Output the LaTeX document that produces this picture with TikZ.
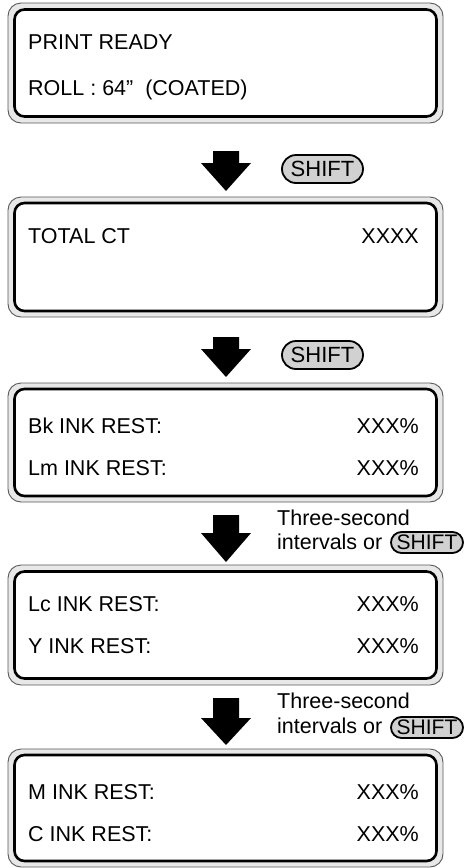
\documentclass[tikz,border=0pt]{standalone}
\usepackage{fontspec}
\setmainfont{Liberation Sans}
\begin{document}
\begin{tikzpicture}[x=1pt,y=-1pt,
  outerbox/.style={draw=black!65,line width=0.9pt,fill=black!9,rounded corners=13pt,minimum width=435pt,inner sep=0pt},
  innerbox/.style={draw=black,line width=2.6pt,fill=white,rounded corners=10pt,minimum width=422pt,inner sep=0pt},
  lcd/.style={font=\fontsize{21.5}{25}\selectfont,inner sep=0pt},
  note/.style={font=\fontsize{21.5}{26}\selectfont,inner sep=0pt,anchor=base west},
  bigkey/.style={draw=black,line width=1.8pt,fill=black!18,rounded corners=14pt,minimum width=81pt,minimum height=28pt,inner sep=0pt,font=\fontsize{22}{24}\selectfont},
  smallkey/.style={draw=black,line width=1.8pt,fill=black!18,rounded corners=10.5pt,minimum width=72pt,minimum height=21pt,inner sep=0pt,font=\fontsize{21}{24}\selectfont},
  blockarrow/.style={fill=black}
]
\useasboundingbox (0,0) rectangle (465,868);

% boxes
\node[outerbox,minimum height=120pt] (o1) at (225.5,63) {};
\node[innerbox,minimum height=107pt] (b1) at (o1.center) {};
\node[outerbox,minimum height=120pt] (o2) at (225.5,257) {};
\node[innerbox,minimum height=108pt] (b2) at (o2.center) {};
\node[outerbox,minimum height=119pt] (o3) at (225.5,442.5) {};
\node[innerbox,minimum height=107pt] (b3) at (o3.center) {};
\node[outerbox,minimum height=120pt] (o4) at (225.5,625) {};
\node[innerbox,minimum height=107pt] (b4) at (o4.center) {};
\node[outerbox,minimum height=118pt] (o5) at (225.5,808) {};
\node[innerbox,minimum height=106pt] (b5) at (o5.center) {};

% texts
\node[lcd,anchor=base west] (t1a) at (28,49) {PRINT READY};
\node[lcd,anchor=base west] (t1b) at (28,95) {ROLL : 64”\ \ (COATED)};
\node[lcd,anchor=base west] (t2a) at (28,243) {TOTAL CT};
\node[lcd,anchor=base east] (v2a) at (419,243) {XXXX};
\node[lcd,anchor=base west] (t3a) at (28,433) {Bk INK REST:};
\node[lcd,anchor=base east] (v3a) at (419,433) {XXX\%};
\node[lcd,anchor=base west] (t3b) at (28,475) {Lm INK REST:};
\node[lcd,anchor=base east] (v3b) at (419,475) {XXX\%};
\node[lcd,anchor=base west] (t4a) at (28,611) {Lc INK REST:};
\node[lcd,anchor=base east] (v4a) at (419,611) {XXX\%};
\node[lcd,anchor=base west] (t4b) at (28,653) {Y INK REST:};
\node[lcd,anchor=base east] (v4b) at (419,653) {XXX\%};
\node[lcd,anchor=base west] (t5a) at (28,799) {M INK REST:};
\node[lcd,anchor=base east] (v5a) at (419,799) {XXX\%};
\node[lcd,anchor=base west] (t5b) at (28,841) {C INK REST:};
\node[lcd,anchor=base east] (v5b) at (419,841) {XXX\%};

% block arrows
\newcommand{\blockarr}[3]{\fill[blockarrow] (213,#1) -- (239,#1) -- (239,#2) -- (251,#2) -- (226,#3) -- (201,#2) -- (213,#2) -- cycle;}
\blockarr{151}{163}{191}
\blockarr{337}{349}{377}
\blockarr{515}{533}{562}
\blockarr{698}{718}{745}

% keys and notes
\node[bigkey] (k1) at (322.5,169) {SHIFT};
\node[bigkey] (k2) at (322.5,355) {SHIFT};
\node[note] (n3a) at (277,525) {Three-second};
\node[note] (n3b) at (277,549) {intervals or};
\node[smallkey] (k3) at (427,542.5) {SHIFT};
\node[note] (n4a) at (277,708) {Three-second};
\node[note] (n4b) at (277,733) {intervals or};
\node[smallkey] (k4) at (427,727.5) {SHIFT};
\end{tikzpicture}
\end{document}
